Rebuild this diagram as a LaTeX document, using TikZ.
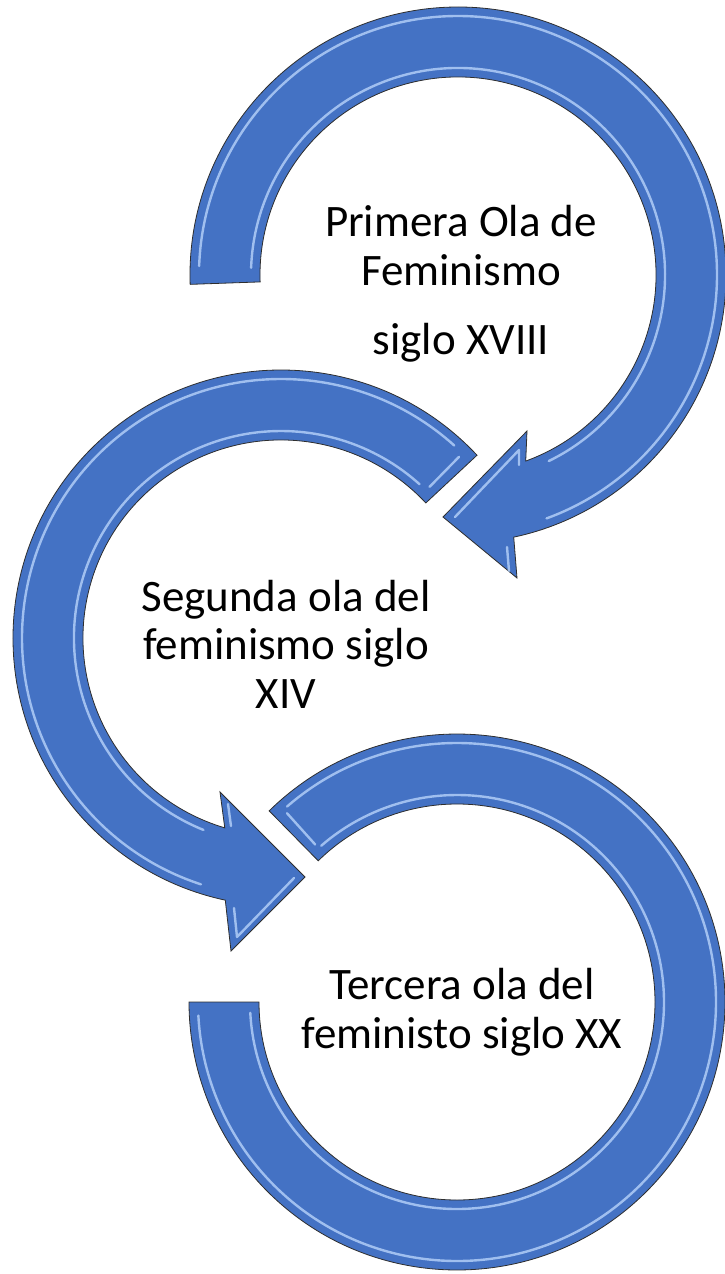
\documentclass[tikz,border=0pt]{standalone}
\usepackage{fontspec}
\setmainfont{Carlito}
\usetikzlibrary{calc}
\definecolor{waveblue}{HTML}{4472C4}
\definecolor{waveedge}{HTML}{2E2E2E}
\definecolor{waveglint}{HTML}{B7D3FA}
\tikzset{
  ringarrow/.style={fill=waveblue,draw=waveedge,line width=0.8pt,line join=miter},
  ringglint/.style={draw=waveglint,line width=2.4pt,line cap=round,line join=round,opacity=0.8},
  wavetext/.style={align=center,inner sep=0pt,font=\fontsize{45}{48.5}\selectfont}
}

\begin{document}
\begin{tikzpicture}[x=1pt,y=1pt]
  \useasboundingbox (0,0) rectangle (725,-1274);
  \coordinate (c1) at (458,-275);
  \coordinate (c2) at (281,-638);
  \coordinate (c3) at (457,-1002);

  % first wave: clockwise, head at lower right
  \draw[ringarrow] ($(c1)+(182:268)$) arc[start angle=182,end angle=-78,radius=268]
    -- ($(c1)+(59,-303)$) -- ($(c1)+(-15,-242)$) -- ($(c1)+(69,-156)$)
    -- ($(c1)+(-70:198)$) arc[start angle=-70,end angle=182,radius=198] -- cycle;
  % second wave: counter-clockwise, head at lower right
  \draw[ringarrow] ($(c2)+(43:268)$) arc[start angle=43,end angle=258,radius=268]
    -- ($(c2)+(-50,-313)$) -- ($(c2)+(24,-239)$) -- ($(c2)+(-61,-154)$)
    -- ($(c2)+(253.5:198)$) arc[start angle=253.5,end angle=43,radius=198] -- cycle;
  % third wave: clockwise, no head
  \draw[ringarrow] ($(c3)+(134.5:268)$) arc[start angle=134.5,end angle=-180,radius=268]
    -- ($(c3)+(180:198)$) arc[start angle=-180,end angle=134.5,radius=198] -- cycle;

  % bevel glints
  \draw[ringglint] ($(c1)+(178:259)$) arc[start angle=178,end angle=-70,radius=259];
  \draw[ringglint] ($(c1)+(-64:207)$) arc[start angle=-64,end angle=178,radius=207];
  \draw[ringglint] ($(c1)+(-3,-242)$) -- ($(c1)+(61,-175)$) -- ($(c1)+(61,-190)$);
  \draw[ringglint] ($(c1)+(49,-272)$) -- ($(c1)+(51,-296)$);
  \draw[ringglint] ($(c2)+(45.5:212)$) -- ($(c2)+(45.5:254)$);
  \draw[ringglint] ($(c2)+(48:259)$) arc[start angle=48,end angle=252,radius=259];
  \draw[ringglint] ($(c2)+(248:207)$) arc[start angle=248,end angle=48,radius=207];
  \draw[ringglint] ($(c2)+(-53,-166)$) -- ($(c2)+(-50,-188)$);
  \draw[ringglint] ($(c2)+(-47,-270)$) -- ($(c2)+(-44,-299)$) -- ($(c2)+(13,-240)$);
  \draw[ringglint] ($(c3)+(132:212)$) -- ($(c3)+(132:254)$);
  \draw[ringglint] ($(c3)+(131:259)$) arc[start angle=131,end angle=-177,radius=259];
  \draw[ringglint] ($(c3)+(-177:207)$) arc[start angle=-177,end angle=131,radius=207];

  \node[wavetext] (first) at (461,-284) {Primera Ola de\\Feminismo\\[21pt]siglo XVIII};
  \node[wavetext] (second) at (286,-644) {Segunda ola del\\feminismo siglo\\XIV};
  \node[wavetext] (third) at (462,-1012) {Tercera ola del\\feministo siglo XX};
\end{tikzpicture}
\end{document}
